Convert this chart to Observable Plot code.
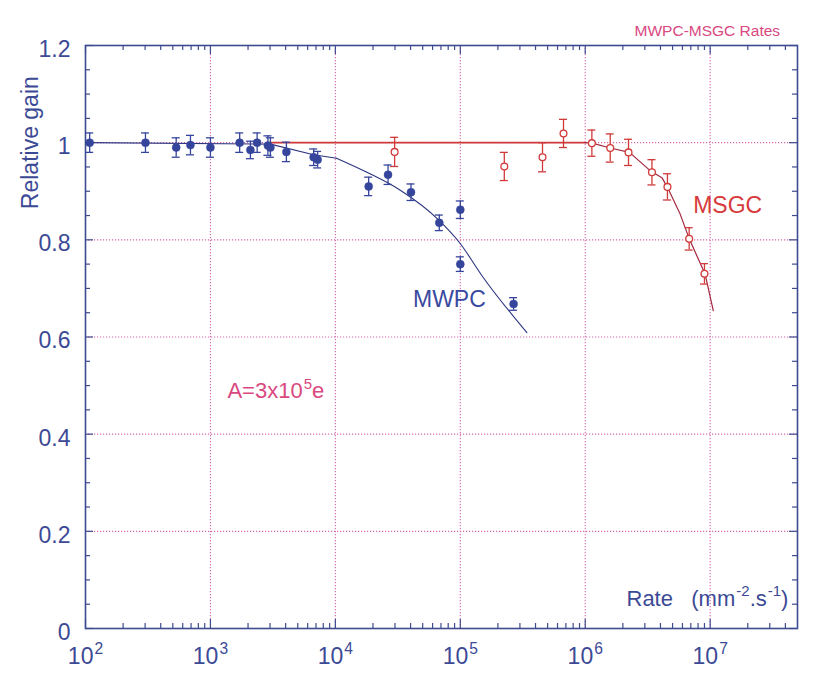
<!DOCTYPE html>
<html><head><meta charset="utf-8">
<script src="https://cdn.jsdelivr.net/npm/d3@7"></script>
<script src="https://cdn.jsdelivr.net/npm/@observablehq/plot@0.6"></script>
<style>
html,body{margin:0;padding:0;background:#fff;}
#chart svg{display:block;}
</style></head><body><div id="chart"></div>
<script>
// ---- data ----
const mwpcRate = [108, 302, 532, 692, 1000, 1714, 2089, 2365, 2884, 3020, 4055, 6700, 7211, 18470, 26400, 40300, 67900, 100000, 100000, 267000];
const mwpcGain = [1.0, 1.0, 0.990, 0.995, 0.990, 1.0, 0.985, 1.0, 0.994, 0.990, 0.981, 0.970, 0.965, 0.910, 0.934, 0.898, 0.835, 0.862, 0.750, 0.668];
const mwpcErr  = [0.02, 0.02, 0.02, 0.02, 0.02, 0.02, 0.018, 0.02, 0.02, 0.02, 0.02, 0.017, 0.017, 0.019, 0.02, 0.017, 0.016, 0.018, 0.015, 0.013];

const msgcRate = [29800, 225000, 455000, 670000, 1130000, 1585000, 2220000, 3420000, 4550000, 6790000, 9000000];
const msgcGain = [0.981, 0.951, 0.970, 1.019, 0.999, 0.989, 0.980, 0.939, 0.909, 0.802, 0.730];
const msgcErr  = [0.030, 0.029, 0.030, 0.029, 0.027, 0.029, 0.027, 0.026, 0.027, 0.023, 0.021];

// MWPC fit: flat part (polyline) and falling part (smooth)
const mwpcFlatFitRate = [100, 3020, 6700, 10200];
const mwpcFlatFitGain = [1.0, 0.997, 0.975, 0.968];
const mwpcFallFitRate = [10200, 17900, 33100, 67000, 98700, 153000, 341000];
const mwpcFallFitGain = [0.968, 0.939, 0.902, 0.841, 0.794, 0.722, 0.609];

const msgcFlatRate = [3020, 1000000];
const msgcFlatGain = [1.0, 1.0];
const msgcFitRate = [1000000, 1140000, 1580000, 2260000, 3360000, 4110000, 4550000, 5750000, 6830000, 9120000, 10600000];
const msgcFitGain = [1.0, 0.999, 0.989, 0.980, 0.941, 0.928, 0.908, 0.853, 0.801, 0.729, 0.654];

const xDecades = [1e2, 1e3, 1e4, 1e5, 1e6, 1e7];
const xGrid = [1e3, 1e4, 1e5, 1e6, 1e7];
const xMinor = [];
for (const k of [2,3,4,5,6]) for (const m of [2,3,4,5,6,7,8,9]) xMinor.push(m * 10 ** k);
xMinor.push(2e7, 3e7, 4e7);
const yMajor = [0, 0.2, 0.4, 0.6, 0.8, 1.0, 1.2];
const yGrid = [0.2, 0.4, 0.6, 0.8, 1.0];
const yMinor = [0.05,0.1,0.15,0.25,0.3,0.35,0.45,0.5,0.55,0.65,0.7,0.75,0.85,0.9,0.95,1.05,1.1,1.15];

const mwpc = mwpcRate.map((r, i) => ({rate: r, gain: mwpcGain[i], lo: mwpcGain[i] - mwpcErr[i], hi: mwpcGain[i] + mwpcErr[i]}));
const msgc = msgcRate.map((r, i) => ({rate: r, gain: msgcGain[i], lo: msgcGain[i] - msgcErr[i], hi: msgcGain[i] + msgcErr[i]}));
const mwpcFit1 = mwpcFlatFitRate.map((r, i) => ({rate: r, gain: mwpcFlatFitGain[i]}));
const mwpcFit2 = mwpcFallFitRate.map((r, i) => ({rate: r, gain: mwpcFallFitGain[i]}));
const msgcFlat = msgcFlatRate.map((r, i) => ({rate: r, gain: msgcFlatGain[i]}));
const msgcFit = msgcFitRate.map((r, i) => ({rate: r, gain: msgcFitGain[i]}));

const labels = [
  {text: "MWPC", rate: 41800, gain: 0.661, color: "#3a4aa0", anchor: "start", size: 23},
  {text: "MSGC", rate: 7310000, gain: 0.856, color: "#d63a3a", anchor: "start", size: 23},
  {text: "A=3x10^{5}e", rate: 1368, gain: 0.475, color: "#d9487f", anchor: "start", size: 22},
  {text: "Rate\u00a0\u00a0\u00a0(mm^{-2}.s^{-1})", rate: 42300000, gain: 0.047, color: "#3c4a96", anchor: "end", size: 22},
  {text: "MWPC-MSGC Rates", rate: 36300000, gain: 1.220, color: "#d9487f", anchor: "end", size: 15.5}
];

// ---- layout / style ----
const W = 830, H = 679, mL = 85, mR = 33, mT = 45, mB = 51;
const iW = W - mL - mR, iH = H - mT - mB;
const axisColor = "#3e4b8e", textColor = "#3c4a96";
const blue = "#36459c", blueLine = "#2c3580";
const red = "#d13a3a", redLine = "#a3283e";
const gridColor = "#d46aa8";

const chart = Plot.plot({
  width: W, height: H,
  marginLeft: mL, marginRight: mR, marginTop: mT, marginBottom: mB,
  style: {fontFamily: "'Liberation Sans', Arial, Helvetica, sans-serif", background: "#fff", overflow: "visible"},
  x: {type: "log", domain: [100, 5e7]},
  y: {domain: [0, 1.2]},
  marks: [
    // grid
    Plot.ruleX(xGrid, {stroke: gridColor, strokeWidth: 1.1, strokeDasharray: "1.2,1.8"}),
    Plot.ruleY(yGrid, {stroke: gridColor, strokeWidth: 1.1, strokeDasharray: "1.2,1.8"}),
    // inward ticks
    Plot.ruleX(xDecades, {insetTop: iH - 9, stroke: axisColor, strokeWidth: 1.2}),
    Plot.ruleX(xMinor, {insetTop: iH - 5, stroke: axisColor, strokeWidth: 1.2}),
    Plot.ruleX(xDecades, {insetBottom: iH - 9, stroke: axisColor, strokeWidth: 1.2}),
    Plot.ruleX(xMinor, {insetBottom: iH - 5, stroke: axisColor, strokeWidth: 1.2}),
    Plot.ruleY(yMajor, {insetRight: iW - 8, stroke: axisColor, strokeWidth: 1.2}),
    Plot.ruleY(yMinor, {insetRight: iW - 5, stroke: axisColor, strokeWidth: 1.2}),
    Plot.ruleY(yMajor, {insetLeft: iW - 8, stroke: axisColor, strokeWidth: 1.2}),
    Plot.ruleY(yMinor, {insetLeft: iW - 5, stroke: axisColor, strokeWidth: 1.2}),
    Plot.frame({stroke: axisColor, strokeWidth: 1.6}),
    // fit lines
    Plot.line(msgcFlat, {x: "rate", y: "gain", stroke: red, strokeWidth: 1.7}),
    Plot.line(mwpcFit1, {x: "rate", y: "gain", stroke: blueLine, strokeWidth: 1.1}),
    Plot.line(mwpcFit2, {x: "rate", y: "gain", stroke: blueLine, strokeWidth: 1.1, curve: "monotone-x"}),
    Plot.line(msgcFit, {x: "rate", y: "gain", stroke: redLine, strokeWidth: 1.2}),
    // error bars
    Plot.ruleX(mwpc, {x: "rate", y1: "lo", y2: "hi", stroke: blue, strokeWidth: 1.3}),
    Plot.ruleY(mwpc, {y: "lo", x1: "rate", x2: "rate", insetLeft: -4, insetRight: -4, stroke: blue, strokeWidth: 1.3}),
    Plot.ruleY(mwpc, {y: "hi", x1: "rate", x2: "rate", insetLeft: -4, insetRight: -4, stroke: blue, strokeWidth: 1.3}),
    Plot.ruleX(msgc, {x: "rate", y1: "lo", y2: "hi", stroke: red, strokeWidth: 1.3}),
    Plot.ruleY(msgc, {y: "lo", x1: "rate", x2: "rate", insetLeft: -4, insetRight: -4, stroke: red, strokeWidth: 1.3}),
    Plot.ruleY(msgc, {y: "hi", x1: "rate", x2: "rate", insetLeft: -4, insetRight: -4, stroke: red, strokeWidth: 1.3}),
    // points
    Plot.dot(mwpc, {x: "rate", y: "gain", r: 4, fill: blue, stroke: blue, strokeWidth: 0.5}),
    Plot.dot(msgc, {x: "rate", y: "gain", r: 3.4, fill: "#fff", stroke: red, strokeWidth: 1.3}),
    // annotations
    ...labels.map(l => Plot.text([l], {x: "rate", y: "gain", text: "text", fill: l.color, textAnchor: l.anchor, lineAnchor: "bottom", fontSize: l.size})),
    Plot.text([{gain: 1.0}], {y: "gain", text: () => "Relative gain", frameAnchor: "left", dx: -48, rotate: -90, textAnchor: "middle", lineAnchor: "bottom", fill: textColor, fontSize: 23}),
    // axes
    Plot.axisX({ticks: xDecades, label: null, tickSize: 0, tickPadding: 19, fontSize: 23, color: textColor,
      tickFormat: d => `10^{${Math.round(Math.log10(d))}}`}),
    Plot.axisY({ticks: yMajor, label: null, tickSize: 0, tickPadding: 15, fontSize: 23, color: textColor, dy: 4,
      tickFormat: d => String(+d.toFixed(1))})
  ]
});

document.getElementById("chart").appendChild(chart);

// render ^{...} as superscript tspans (text stays real text)
chart.querySelectorAll("text").forEach(t => {
  if (t.children.length || !t.textContent.includes("^{")) return;
  const s = t.textContent;
  const fs = parseFloat(getComputedStyle(t).fontSize) || 20;
  const parts = s.split(/(\^\{[^}]*\})/).filter(p => p.length);
  t.textContent = "";
  let raised = false;
  const ns = "http://www.w3.org/2000/svg";
  for (const p of parts) {
    const ts = document.createElementNS(ns, "tspan");
    if (p.startsWith("^{")) {
      ts.textContent = p.slice(2, -1);
      ts.setAttribute("font-size", (fs * 0.68).toFixed(1));
      ts.setAttribute("dy", (-fs * 0.42).toFixed(1));
      ts.setAttribute("dx", "1");
      raised = true;
    } else {
      ts.textContent = p;
      if (raised) { ts.setAttribute("dy", (fs * 0.42).toFixed(1)); raised = false; }
    }
    t.appendChild(ts);
  }
});
</script>
</body></html>
